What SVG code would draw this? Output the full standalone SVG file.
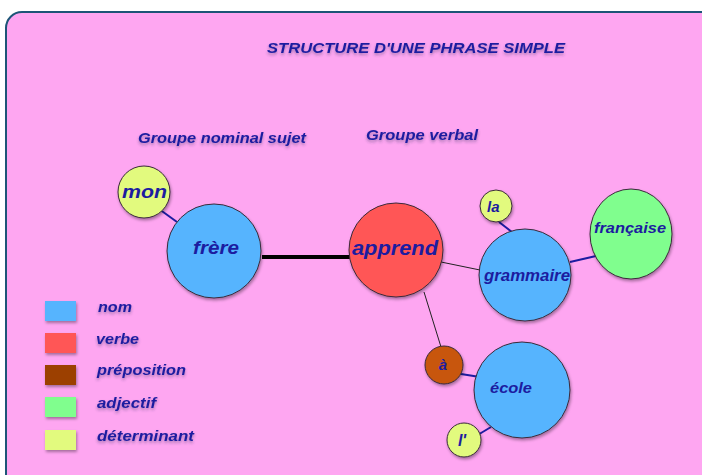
<svg xmlns="http://www.w3.org/2000/svg" width="702" height="475" viewBox="0 0 702 475">
<defs>
<filter id="sh" x="-30%" y="-30%" width="160%" height="160%">
<feDropShadow dx="1" dy="2" stdDeviation="1.5" flood-color="#000" flood-opacity="0.35"/>
</filter>
<filter id="tsh" x="-10%" y="-50%" width="120%" height="200%">
<feDropShadow dx="0" dy="2" stdDeviation="1.5" flood-color="#303060" flood-opacity="0.45"/>
</filter>
</defs>
<style>
text{font-family:"Liberation Sans",Arial,sans-serif;font-weight:bold;font-style:italic;fill:#1c1ca0}
.n circle,.n ellipse{stroke:#3a2a3a;stroke-width:1;filter:url(#sh)}
.lbl{font-size:15px;filter:url(#tsh)}
.leg rect{filter:url(#sh)}
.blue{stroke:#1c1ca0;stroke-width:2}
.thin{stroke:#222;stroke-width:1}
</style>
<rect x="6" y="12" width="720" height="480" rx="16" fill="#fea6f1" stroke="#1d5577" stroke-width="2"/>
<text x="416" y="53" text-anchor="middle" font-size="15" textLength="298" lengthAdjust="spacingAndGlyphs" filter="url(#tsh)">STRUCTURE D'UNE PHRASE SIMPLE</text>
<text class="lbl" x="138" y="143" textLength="168" lengthAdjust="spacingAndGlyphs">Groupe nominal sujet</text>
<text class="lbl" x="366" y="140" textLength="112" lengthAdjust="spacingAndGlyphs">Groupe verbal</text>

<g id="connectors">
<line class="blue" x1="159" y1="209" x2="177" y2="222"/>
<line x1="262" y1="257" x2="350" y2="257" stroke="#000" stroke-width="4"/>
<line class="thin" x1="441" y1="262" x2="480" y2="270"/>
<line class="blue" x1="499" y1="222" x2="512" y2="232"/>
<line class="blue" x1="570" y1="262" x2="596" y2="256"/>
<line class="thin" x1="424" y1="292" x2="441" y2="347"/>
<line class="blue" x1="461" y1="374" x2="480" y2="377"/>
<line class="blue" x1="476" y1="436" x2="491" y2="427"/>
</g>

<g id="mon" class="n"><circle cx="144" cy="192" r="26" fill="#e2fa7e"/><text x="122" y="198" font-size="19" textLength="45" lengthAdjust="spacingAndGlyphs">mon</text></g>
<g id="frere" class="n"><circle cx="214" cy="251" r="47" fill="#56b4fe"/><text x="193" y="254" font-size="19" textLength="46" lengthAdjust="spacingAndGlyphs">frère</text></g>
<g id="apprend" class="n"><circle cx="396" cy="250" r="47" fill="#ff5656"/><text x="352" y="255" font-size="20" textLength="86" lengthAdjust="spacingAndGlyphs">apprend</text></g>
<g id="la" class="n"><circle cx="496" cy="206" r="16" fill="#e2fa7e"/><text x="487" y="212" font-size="15">la</text></g>
<g id="grammaire" class="n"><circle cx="525" cy="275" r="46" fill="#56b4fe"/><text x="484" y="281" font-size="16" textLength="86" lengthAdjust="spacingAndGlyphs">grammaire</text></g>
<g id="francaise" class="n"><ellipse cx="631" cy="234" rx="41" ry="45" fill="#80fe8e"/><text x="594" y="233" font-size="15" textLength="72" lengthAdjust="spacingAndGlyphs">française</text></g>
<g id="a" class="n"><circle cx="444" cy="365" r="19" fill="#c8570b"/><text x="443" y="370" font-size="15" text-anchor="middle">à</text></g>
<g id="ecole" class="n"><circle cx="522" cy="390" r="48" fill="#56b4fe"/><text x="490" y="393" font-size="15" textLength="42" lengthAdjust="spacingAndGlyphs">école</text></g>
<g id="l" class="n"><circle cx="464" cy="440" r="17" fill="#e2fa7e"/><text x="462" y="446" font-size="16" text-anchor="middle">l'</text></g>

<g id="legend" class="leg">
<rect x="45" y="301" width="31" height="20" fill="#56b4fe"/>
<rect x="45" y="333" width="31" height="20" fill="#ff5656"/>
<rect x="45" y="365" width="31" height="20" fill="#9c4100"/>
<rect x="45" y="397" width="31" height="20" fill="#80fe8e"/>
<rect x="45" y="430" width="31" height="20" fill="#e2fa7e"/>
<text class="lbl" x="98" y="312" textLength="34" lengthAdjust="spacingAndGlyphs">nom</text>
<text class="lbl" x="96" y="344" textLength="43" lengthAdjust="spacingAndGlyphs">verbe</text>
<text class="lbl" x="97" y="375" textLength="89" lengthAdjust="spacingAndGlyphs">préposition</text>
<text class="lbl" x="97" y="408" textLength="59" lengthAdjust="spacingAndGlyphs">adjectif</text>
<text class="lbl" x="97" y="441" textLength="97" lengthAdjust="spacingAndGlyphs">déterminant</text>
</g>
</svg>
